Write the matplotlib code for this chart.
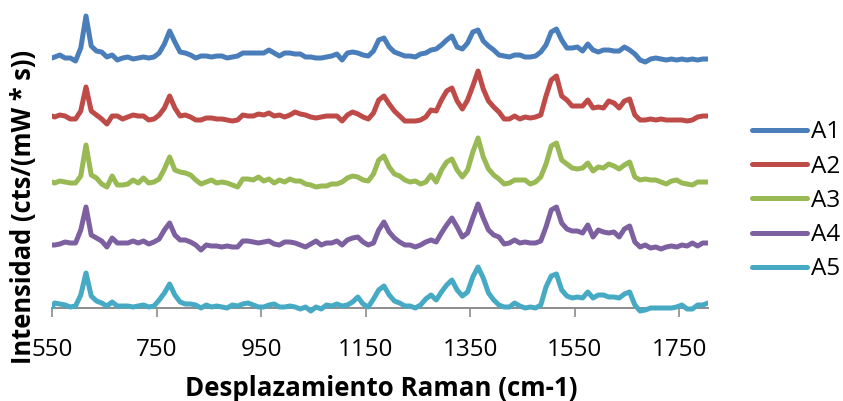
import numpy as np
import matplotlib
matplotlib.use("Agg")
import matplotlib.pyplot as plt

plt.rcParams['font.family'] = ['Open Sans', 'DejaVu Sans']

# Raman shift grid (cm-1)
raman_shift = [550] + list(range(555, 1806, 10))

# Spectra intensities (each spectrum relative to its own baseline)
a1 = [0,
      1, 3, 0, 0, -3, 10, 42, 12, 7, 6,
      1, 3, -2, 0, 1, -1, 0, 1, 0, 1,
      5, 14, 27, 16, 6, 5, 3, 0, 2, 2,
      1, 2, 2, 0, 1, 2, 5, 5, 5, 5,
      5, 8, 5, 2, 5, 5, 4, 4, 1, 1,
      0, 0, 1, 2, 4, -2, 5, 6, 5, 3,
      2, 7, 18, 20, 11, 6, 4, 2, 2, 1,
      4, 5, 8, 9, 13, 18, 22, 11, 9, 15,
      26, 28, 17, 12, 8, 3, 2, 1, 3, 3,
      1, 1, 2, 6, 13, 26, 29, 18, 10, 10,
      11, 7, 14, 8, 6, 8, 8, 7, 7, 11,
      8, 4, -2, -4, -1, 0, -1, -2, -1, -2,
      -1, -2, -1, -2, -1, -1]

a2 = [2,
      1, 3, 2, -1, -1, 7, 31, 7, 3, -1,
      -6, 2, 2, -1, 1, 3, 2, 2, -2, -1,
      3, 10, 22, 10, 2, 3, 1, -2, -2, 0,
      0, -1, -1, -2, -3, -2, 3, 2, 2, 4,
      3, 5, 2, 3, 1, 3, 6, 4, 3, 1,
      0, 1, 2, 2, 2, -3, 3, 6, 4, 1,
      -1, 5, 18, 22, 14, 7, 2, -3, -3, -3,
      -2, 1, 8, 7, 18, 27, 30, 17, 9, 18,
      32, 47, 29, 17, 11, 6, -1, -1, 2, -1,
      1, 0, 1, 3, 22, 38, 42, 22, 18, 12,
      12, 12, 18, 10, 11, 10, 17, 15, 10, 17,
      19, 3, -2, -2, -1, -2, -1, -2, -2, -2,
      -2, -3, -2, 1, 2, 2]

a3 = [0,
      -1, 1, 0, -1, -1, 6, 37, 7, 4, -2,
      -5, 6, -3, -3, -2, 2, -1, 4, -1, 0,
      3, 13, 25, 12, 10, 9, 7, 2, -2, 0,
      2, -1, 0, -1, -3, -5, 3, 3, 2, 5,
      1, 3, -1, 2, 0, 3, 1, 1, -2, -3,
      -5, -4, -4, -2, -2, 0, 4, 6, 5, 2,
      1, 8, 22, 26, 15, 8, 6, 2, 0, 1,
      -2, 0, 7, 0, 12, 20, 23, 12, 5, 12,
      30, 44, 25, 13, 7, 3, -2, -1, 2, 2,
      2, -2, 0, 5, 18, 36, 39, 22, 18, 14,
      13, 14, 19, 11, 15, 14, 18, 16, 13, 17,
      20, 5, 2, 3, 2, 2, 0, -2, 1, 2,
      -1, -2, -3, 0, 0, 0]

a4 = [-1,
      -1, 0, 2, 1, 1, 14, 37, 9, 6, 3,
      -3, 6, 1, 1, 1, 3, 1, 3, 0, 2,
      5, 14, 21, 9, 4, 4, 2, -1, -6, -1,
      -2, -2, -3, -2, -3, -3, 3, 3, 2, 1,
      2, 3, 0, -1, 2, 2, 1, -1, -3, 0,
      3, -1, 1, 1, 3, -1, 4, 6, 7, 2,
      -1, 1, 14, 22, 12, 6, 2, -1, -1, -3,
      -1, 2, 4, 2, 11, 19, 26, 17, 7, 11,
      26, 40, 26, 14, 9, 7, 0, 1, 4, 1,
      2, 1, 1, 3, 17, 34, 37, 21, 15, 13,
      13, 11, 19, 7, 14, 12, 11, 12, 7, 15,
      18, 2, -3, -1, -4, -3, -5, -3, -2, -3,
      -1, -2, 1, -2, 1, 1]

a5 = [-2,
      2, 1, 0, -2, -1, 10, 32, 9, 4, 2,
      -1, 3, -1, -1, -1, -2, -1, 0, -2, -1,
      5, 12, 21, 10, 3, 1, 1, 0, -3, 0,
      -2, -1, -2, -3, 0, -1, 1, 2, 0, -2,
      -2, 0, 1, -2, -2, -1, -2, -4, -2, -6,
      -2, -4, 0, -1, 1, -1, 0, 3, 8, 1,
      -2, 6, 15, 19, 10, 4, 2, -1, -1, -3,
      0, 6, 10, 5, 13, 20, 25, 15, 9, 13,
      28, 38, 27, 12, 5, 0, -2, -2, 2, -1,
      -3, -2, -3, 0, 18, 29, 31, 15, 9, 7,
      8, 7, 13, 7, 10, 10, 8, 8, 7, 11,
      13, 0, -6, -5, -3, -3, -3, -3, -3, -2,
      0, -4, -4, 0, 0, 2]

spectra = [a1, a2, a3, a4, a5]
names = ['A1', 'A2', 'A3', 'A4', 'A5']
# vertical offset used to stack the spectra
offsets = [250, 190, 126, 64, 3]
colors = ['#4A7EBB', '#BE4B48', '#98B954', '#7D60A0', '#46AAC5']

fig = plt.figure(figsize=(8.43, 4.01), dpi=100)
ax = fig.add_axes([0.0617, 0.202, 0.7782, 0.7855])

for spec, off, col, name in zip(spectra, offsets, colors, names):
    ax.plot(raman_shift, np.array(spec) + off, color=col, lw=3.6, label=name,
            solid_joinstyle='round', solid_capstyle='round', zorder=3)

ax.set_xlim(550, 1805)
ax.set_ylim(-12, 303)
ax.set_xticks(range(550, 1751, 200))
ax.set_yticks([])

for side in ['left', 'top', 'right']:
    ax.spines[side].set_visible(False)
ax.spines['bottom'].set_position(('data', 0))
ax.spines['bottom'].set_color('#8C8C8C')
ax.spines['bottom'].set_linewidth(1.4)
ax.tick_params(axis='x', direction='out', length=6.5, width=1.2,
               color='#8C8C8C', labelsize=17.5, pad=15, labelcolor='black')

fig.text(0.4520, 0.012, 'Desplazamiento Raman (cm-1)', fontsize=18.6,
         fontweight='bold', ha='center', va='baseline')
fig.text(0.028, 0.483, 'Intensidad (cts/(mW * s))', fontsize=18.4,
         fontweight='bold', rotation=90, ha='center', va='center')

ax.legend(loc='center left', bbox_to_anchor=(0.892, 0.499),
          bbox_transform=fig.transFigure, frameon=False, fontsize=17.5,
          handlelength=2.26, handletextpad=0.15, labelspacing=0.42,
          borderpad=0, borderaxespad=0)

fig.savefig('out.png', dpi=100)
